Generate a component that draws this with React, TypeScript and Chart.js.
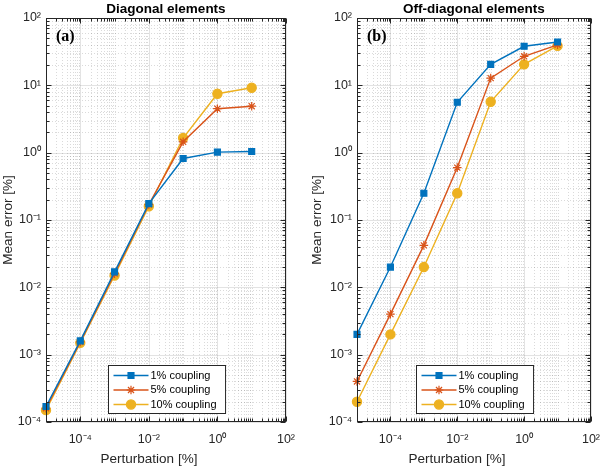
import React, { useEffect, useRef } from 'react';
import { Chart, registerables } from 'chart.js';
import { drawPoint } from 'chart.js/helpers';

Chart.register(...registerables);

// ---------- data ----------
const perturbation = [1e-5, 1e-4, 1e-3, 1e-2, 1e-1, 1, 10];

const diag1 = [1.7e-4, 1.6e-3, 1.7e-2, 0.175, 0.82, 1.02, 1.04];
const diag5 = [1.6e-4, 1.55e-3, 1.6e-2, 0.17, 1.45, 4.5, 4.9];
const diag10 = [1.5e-4, 1.5e-3, 1.5e-2, 0.16, 1.65, 7.5, 9.2];

const off1 = [2e-3, 0.02, 0.25, 5.6, 20.5, 38, 44];
const off5 = [4e-4, 4e-3, 0.042, 0.6, 12.8, 27, 40];
const off10 = [2e-4, 2e-3, 0.02, 0.25, 5.7, 20.5, 38.5];

const seriesLabels = ['1% coupling', '5% coupling', '10% coupling'];
const seriesColors = ['#0072BD', '#D95319', '#EDB120'];
const seriesMarkers = ['rect', 'star', 'circle'];

const xTickExponents = [-4, -2, 0, 2];
const yTickExponents = [-4, -3, -2, -1, 0, 1, 2];

const xTitle = 'Perturbation [%]';
const yTitle = 'Mean error [%]';

const FONT = '"Liberation Sans", Arial, Helvetica, sans-serif';
const AXIS_COLOR = '#262626';

const SUP: Record<string, string> = {
  '-': '⁻', '0': '⁰', '1': '¹', '2': '²', '3': '³', '4': '⁴',
  '5': '⁵', '6': '⁶', '7': '⁷', '8': '⁸', '9': '⁹',
};
const powLabel = (e: number) => '10' + String(e).split('').map((c) => SUP[c]).join('');

const decadeOf = (v: number): number | null => {
  const l = Math.log10(v);
  const r = Math.round(l);
  return Math.abs(l - r) < 1e-6 ? r : null;
};

const markerRadius: Record<string, number> = { rect: 4.2, star: 4.3, circle: 4.6 };

// ---------- decoration plugin (grid, box, ticks, legend, labels) ----------
const decorPlugin = {
  id: 'decor',
  beforeDatasetsDraw(chart: any) {
    const { ctx, chartArea: a, scales } = chart;
    const x = scales.x;
    const y = scales.y;
    ctx.save();
    ctx.lineWidth = 1;
    // minor grid (dotted)
    ctx.strokeStyle = 'rgba(38,38,38,0.17)';
    ctx.setLineDash([1, 2]);
    for (let e = -5; e <= 1; e++) {
      for (let k = 1; k <= 9; k++) {
        const v = k * Math.pow(10, e);
        if (k === 1 && (e % 2 === 0 || e === -5)) continue;
        const px = Math.round(x.getPixelForValue(v)) + 0.5;
        ctx.beginPath();
        ctx.moveTo(px, a.top);
        ctx.lineTo(px, a.bottom);
        ctx.stroke();
      }
    }
    for (let e = -4; e <= 1; e++) {
      for (let k = 2; k <= 9; k++) {
        const v = k * Math.pow(10, e);
        const py = Math.round(y.getPixelForValue(v)) + 0.5;
        ctx.beginPath();
        ctx.moveTo(a.left, py);
        ctx.lineTo(a.right, py);
        ctx.stroke();
      }
    }
    // major grid (solid)
    ctx.setLineDash([]);
    ctx.strokeStyle = 'rgba(38,38,38,0.13)';
    for (const e of xTickExponents) {
      const px = Math.round(x.getPixelForValue(Math.pow(10, e))) + 0.5;
      ctx.beginPath();
      ctx.moveTo(px, a.top);
      ctx.lineTo(px, a.bottom);
      ctx.stroke();
    }
    for (const e of yTickExponents) {
      const py = Math.round(y.getPixelForValue(Math.pow(10, e))) + 0.5;
      ctx.beginPath();
      ctx.moveTo(a.left, py);
      ctx.lineTo(a.right, py);
      ctx.stroke();
    }
    ctx.restore();
  },
  afterDraw(chart: any, _args: any, opts: any) {
    const { ctx, chartArea: a, scales } = chart;
    const x = scales.x;
    const y = scales.y;
    const L = Math.round(a.left) + 0.5;
    const R = Math.round(a.right) - 0.5;
    const T = Math.round(a.top) + 0.5;
    const B = Math.round(a.bottom) - 0.5;
    ctx.save();
    ctx.strokeStyle = AXIS_COLOR;
    ctx.lineWidth = 1;
    // ticks
    const majorLen = 5;
    const minorLen = 3;
    for (let e = -5; e <= 2; e++) {
      for (let k = 1; k <= 9; k++) {
        const v = k * Math.pow(10, e);
        if (v > 100 * 1.0001) break;
        const major = k === 1 && xTickExponents.includes(e);
        const len = major ? majorLen : minorLen;
        const px = Math.round(x.getPixelForValue(v)) + 0.5;
        ctx.beginPath();
        ctx.moveTo(px, B);
        ctx.lineTo(px, B - len);
        ctx.moveTo(px, T);
        ctx.lineTo(px, T + len);
        ctx.stroke();
      }
    }
    for (let e = -4; e <= 2; e++) {
      for (let k = 1; k <= 9; k++) {
        const v = k * Math.pow(10, e);
        if (v > 100 * 1.0001) break;
        const major = k === 1;
        const len = major ? majorLen : minorLen;
        const py = Math.round(y.getPixelForValue(v)) + 0.5;
        ctx.beginPath();
        ctx.moveTo(L, py);
        ctx.lineTo(L + len, py);
        ctx.moveTo(R, py);
        ctx.lineTo(R - len, py);
        ctx.stroke();
      }
    }
    // box
    ctx.strokeRect(L, T, R - L, B - T);

    // panel tag
    ctx.fillStyle = '#000';
    ctx.font = 'bold 16px "Liberation Serif", "Times New Roman", serif';
    ctx.textBaseline = 'middle';
    ctx.textAlign = 'left';
    ctx.fillText(opts.tag, a.left + 10, a.top + 19);

    // x axis title
    ctx.fillStyle = AXIS_COLOR;
    ctx.font = `13.5px ${FONT}`;
    ctx.textAlign = 'center';
    ctx.fillText(xTitle, (a.left + a.right) / 2 - 17, 459);

    // legend
    ctx.font = `11px ${FONT}`;
    const datasets = chart.data.datasets;
    const textW = Math.max(...datasets.map((d: any) => ctx.measureText(d.label).width));
    const w = 5 + 35 + 2 + textW + 9;
    const h = 48;
    const cx = (a.left + a.right) / 2 + 1;
    const bx = Math.round(cx - w / 2) + 0.5;
    const by = Math.round(a.bottom - 9 - h) + 0.5;
    ctx.fillStyle = '#fff';
    ctx.fillRect(bx, by, w, h);
    ctx.strokeStyle = AXIS_COLOR;
    ctx.strokeRect(bx, by, w, h);
    datasets.forEach((d: any, i: number) => {
      const ry = by + 10 + i * 14.5;
      ctx.strokeStyle = d.borderColor;
      ctx.fillStyle = d.backgroundColor;
      ctx.lineWidth = d.borderWidth;
      ctx.beginPath();
      ctx.moveTo(bx + 5, ry);
      ctx.lineTo(bx + 40, ry);
      ctx.stroke();
      ctx.lineWidth = d.pointBorderWidth;
      drawPoint(ctx, { pointStyle: d.pointStyle, radius: d.pointRadius, borderWidth: d.pointBorderWidth, rotation: 0 }, bx + 22.5, ry);
      ctx.fillStyle = '#000';
      ctx.textAlign = 'left';
      ctx.textBaseline = 'middle';
      ctx.fillText(d.label, bx + 42, ry);
    });
    ctx.restore();
  },
};

type PanelProps = {
  title: string;
  tag: string;
  series: number[][];
  left: number;
  width: number;
  yAxisWidth: number;
  padRight: number;
  yTitlePad: number;
};

function Panel({ title, tag, series, left, width, yAxisWidth, padRight, yTitlePad }: PanelProps) {
  const ref = useRef<HTMLCanvasElement | null>(null);
  useEffect(() => {
    if (!ref.current) return;
    const chart = new Chart(ref.current, {
      type: 'line',
      data: {
        datasets: series.map((s, i) => ({
          label: seriesLabels[i],
          data: perturbation.map((xv, j) => ({ x: xv, y: s[j] })),
          borderColor: seriesColors[i],
          backgroundColor: seriesColors[i],
          pointBackgroundColor: seriesColors[i],
          pointBorderColor: seriesColors[i],
          pointStyle: seriesMarkers[i] as any,
          pointRadius: markerRadius[seriesMarkers[i]],
          pointBorderWidth: 1.2,
          borderWidth: 1.4,
          tension: 0,
          clip: false as any,
        })),
      },
      options: {
        responsive: false,
        animation: false,
        devicePixelRatio: 1,
        events: [],
        layout: { padding: { left: 0, right: padRight, top: 0, bottom: 0 } },
        plugins: {
          legend: { display: false },
          tooltip: { enabled: false },
          title: {
            display: true,
            text: title,
            fullSize: false,
            color: '#000',
            font: { family: FONT, size: 13.5, weight: 'bold' },
            padding: { top: 1, bottom: 0.8 },
          },
          decor: { tag },
        } as any,
        scales: {
          x: {
            type: 'logarithmic',
            min: 1e-5,
            max: 1e2,
            grid: { display: false, drawTicks: false },
            border: { display: false },
            ticks: {
              autoSkip: false,
              maxRotation: 0,
              minRotation: 0,
              padding: 10,
              color: AXIS_COLOR,
              font: { family: FONT, size: 12.5 },
              callback: (v: any) => {
                const e = decadeOf(Number(v));
                return e !== null && xTickExponents.includes(e) ? powLabel(e) : '';
              },
            },
            afterFit: (s: any) => {
              s.height = 45;
            },
          },
          y: {
            type: 'logarithmic',
            min: 1e-4,
            max: 1e2,
            grid: { display: false, drawTicks: false },
            border: { display: false },
            ticks: {
              autoSkip: false,
              padding: 5,
              color: AXIS_COLOR,
              font: { family: FONT, size: 12.5 },
              callback: (v: any) => {
                const e = decadeOf(Number(v));
                return e !== null && yTickExponents.includes(e) ? powLabel(e) : '';
              },
            },
            title: {
              display: true,
              text: yTitle,
              color: AXIS_COLOR,
              font: { family: FONT, size: 13.5 },
              padding: { top: yTitlePad, bottom: 0 },
            },
            afterFit: (s: any) => {
              s.width = yAxisWidth;
            },
          },
        },
      } as any,
      plugins: [decorPlugin as any],
    });
    return () => chart.destroy();
  }, []);
  return (
    <canvas
      ref={ref}
      width={width}
      height={467}
      style={{ position: 'absolute', left, top: 0, width, height: 467 }}
    />
  );
}

export default function App() {
  return (
    <div style={{ position: 'fixed', left: 0, top: 0, width: 610, height: 467, background: '#fff' }}>
      <Panel title="Diagonal elements" tag="(a)" series={[diag1, diag5, diag10]} left={0} width={305} yAxisWidth={46} padRight={12} yTitlePad={0} />
      <Panel title="Off-diagonal elements" tag="(b)" series={[off1, off5, off10]} left={305} width={305} yAxisWidth={52} padRight={10} yTitlePad={4} />
    </div>
  );
}
